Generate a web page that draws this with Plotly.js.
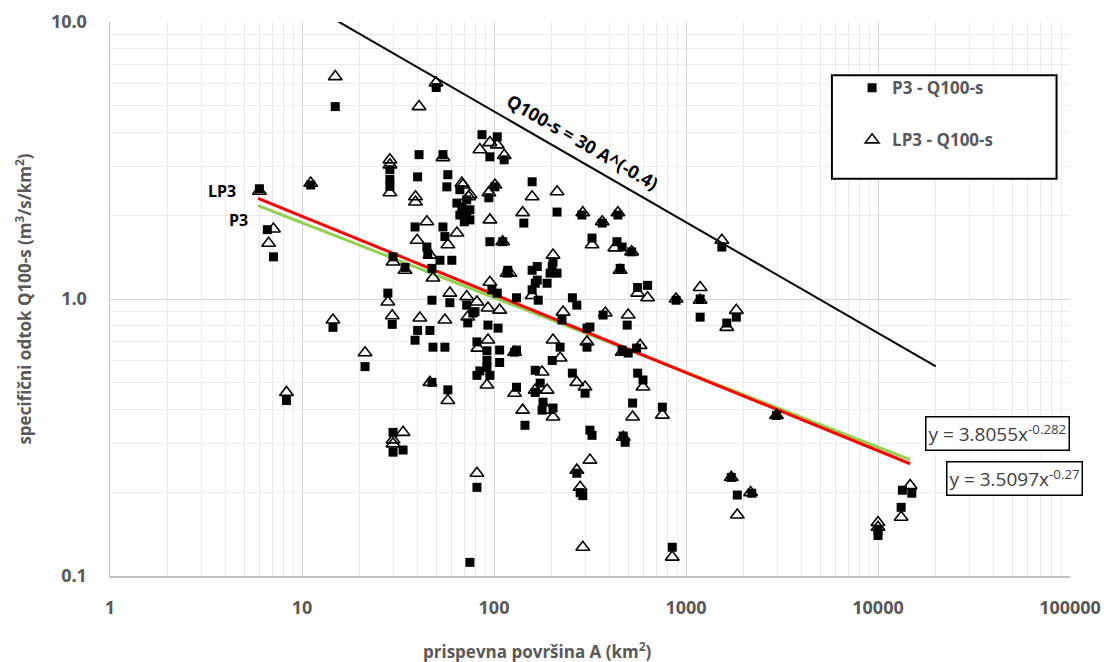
<!DOCTYPE html>
<html>
<head>
<meta charset="utf-8">
<script src="https://cdn.plot.ly/plotly-3.0.1.min.js"></script>
<style>html,body{margin:0;padding:0;background:#fff;}#chart{width:1104px;height:662px;}</style>
</head>
<body>
<div id="chart"></div>
<script>
// ---- P3 - Q100-s (area km2, specific discharge m3/s/km2)
const areaP3 = [6.0,6.6,7.1,8.3,11.1,14.9,14.5,21.3,28.0,28.7,28.7,28.7,29.5,29.8,29.8,29.8,33.6,34.4,40.0,40.7,38.8,44.7,40.0,46.4,38.8,48.1,55.5,47.5,57.5,47.5,45.2,47.5,50.0,54.2,57.5,56.8,54.2,55.5,52.3,60.3,58.9,66.4,64.1,68.0,72.1,72.1,74.9,66.4,70.0,74.9,72.1,77.6,73.0,81.5,74.9,81.5,86.6,104,95.2,113,101,94.0,95.2,111,97.5,104,79.6,93.0,105,91.9,107,91.9,107,91.9,84.4,95.2,81.5,118,131,131,128,131,145,158,143,213,287,158,168,168,164,158,170,201,213,189,196,203,256,226,221,201,164,174,164,180,203,178,256,298,270,270,281,290,316,305,305,316,324,366,442,437,465,521,454,370,494,465,500,553,560,597,527,482,471,324,560,631,753,848,888,1185,1185,1631,1829,1537,1720,1850,2200,2960,10000,10000,13200,13400,15000,117];
const qP3 = [2.50,1.78,1.42,0.43,2.58,4.95,0.79,0.57,1.05,2.93,2.70,2.55,0.81,1.42,0.33,0.28,0.285,1.30,2.76,3.32,1.82,1.54,0.77,0.77,0.71,0.67,0.67,0.50,0.47,0.99,1.46,1.29,5.80,3.32,2.81,2.54,1.82,1.68,1.38,1.38,0.97,2.48,2.22,2.15,2.28,2.05,2.10,2.01,1.90,1.93,0.95,0.89,0.82,0.70,0.112,0.209,3.92,3.85,3.26,3.18,2.54,2.32,1.61,1.61,1.08,1.05,0.90,0.805,0.785,0.65,0.654,0.60,0.59,0.567,0.55,0.53,0.53,1.27,1.01,0.654,0.643,0.48,0.35,2.65,1.88,2.06,2.01,1.27,1.31,1.17,1.14,1.08,0.99,1.31,1.24,1.14,1.24,1.36,1.01,0.84,0.67,0.60,0.553,0.497,0.46,0.424,0.404,0.397,0.54,0.457,0.95,0.235,0.20,0.195,0.336,0.785,0.67,0.792,1.66,1.88,2.01,1.61,1.54,1.48,1.29,0.875,0.805,0.654,0.638,0.665,0.54,0.51,0.421,0.304,0.32,0.322,1.10,1.12,0.407,0.127,0.99,1.00,0.86,0.819,0.86,1.54,0.227,0.196,0.199,0.38,0.146,0.14,0.177,0.204,0.199,1.24];

// ---- LP3 - Q100-s
const areaLP3 = [6.0,6.7,7.1,8.3,11.1,14.9,14.5,21.3,28.0,28.7,28.7,28.7,29.5,29.8,29.8,29.8,33.6,34.4,40.7,39.0,39.0,39.8,44.7,41.1,55.5,46.4,57.5,46.4,48.1,49.9,54.2,68.8,68.0,73.8,64.1,57.5,58.9,72.1,81.5,73.0,82.5,81.5,84.4,95.2,104,113,101,94.0,95.2,111,95.2,93.0,107,93.0,91.9,121,128,128,141,141,158,158,213,203,229,203,221,178,164,189,203,189,270,298,270,281,290,316,305,290,366,442,324,426,521,454,560,631,380,500,465,577,597,527,753,471,888,848,1185,1185,1829,1631,1537,1720,1850,2170,2960,10000,10000,13200,14700,117,75.0];
const qLP3 = [2.45,1.59,1.79,0.46,2.62,6.35,0.84,0.64,0.975,3.18,3.05,2.42,0.87,1.36,0.31,0.30,0.33,1.27,4.95,2.34,2.24,1.63,1.90,0.854,0.84,0.50,0.43,1.44,1.19,6.03,3.24,2.58,2.62,2.34,1.73,1.57,1.05,1.02,0.975,0.861,0.665,0.235,3.46,3.67,3.60,3.30,2.58,2.42,1.93,1.61,1.15,0.928,0.912,0.711,0.489,1.24,0.643,0.457,0.397,2.05,2.34,1.03,2.44,1.44,0.897,0.711,0.612,0.545,0.469,0.469,0.375,0.397,0.50,0.481,0.241,0.209,0.127,0.262,0.70,2.05,1.90,2.05,1.57,1.53,1.48,1.27,1.05,1.01,0.89,0.875,0.643,0.68,0.481,0.375,0.381,0.317,1.00,0.117,1.10,0.99,0.91,0.79,1.63,0.227,0.166,0.20,0.38,0.156,0.15,0.163,0.212,1.24,2.38];

// ---- Trend / envelope lines (from the equations printed on the chart)
const envelope = {coef: 30, exp: -0.4, from: 1, to: 20000};
const fitLP3 = {coef: 3.8055, exp: -0.282, from: 5.9, to: 14700};
const fitP3  = {coef: 3.5097, exp: -0.27,  from: 5.9, to: 14700};

const xTickVals = [1, 10, 100, 1000, 10000, 100000];
const xTickText = ['1', '10', '100', '1000', '10000', '100000'];
const yTickVals = [0.1, 1, 10];
const yTickText = ['0.1', '1.0', '10.0'];

function lineXY(f) {
  const xs = [f.from, f.to];
  return {x: xs, y: xs.map(v => f.coef * Math.pow(v, f.exp))};
}
function minorVals(lo, hi) {
  const out = [];
  for (let d = lo; d < hi; d++) for (let k = 2; k <= 9; k++) out.push(k * Math.pow(10, d));
  return out;
}

const env = lineXY(envelope), lp = lineXY(fitLP3), p = lineXY(fitP3);
const gray = '#595959';
const FONT = 'Open Sans, Noto Sans, sans-serif';

const traces = [
  {x: env.x, y: env.y, mode: 'lines', line: {color: '#000', width: 2}, showlegend: false, hoverinfo: 'skip'},
  {x: p.x, y: p.y, mode: 'lines', line: {color: '#92d050', width: 3}, showlegend: false, hoverinfo: 'skip'},
  {x: lp.x, y: lp.y, mode: 'lines', line: {color: '#ff0000', width: 3}, showlegend: false, hoverinfo: 'skip'},
  {x: areaP3, y: qP3, mode: 'markers', name: 'P3 - Q100-s', legendgroup: 'a',
   marker: {symbol: 'square', size: 9, color: '#000'}},
  {x: areaLP3, y: qLP3, mode: 'markers', name: 'LP3 - Q100-s', legendgroup: 'b',
   marker: {symbol: 'triangle-up-open', size: 12, color: '#000', line: {width: 1.6, color: '#000'}}}
];

const layout = {
  width: 1104, height: 662,
  margin: {l: 110, r: 34, t: 22, b: 86},
  paper_bgcolor: '#fff', plot_bgcolor: '#fff',
  font: {family: FONT, color: gray},
  showlegend: true,
  legend: {x: 0.773, y: 0.913, xanchor: 'left', yanchor: 'top', bgcolor: 'rgba(0,0,0,0)',
           borderwidth: 0, tracegroupgap: 27, traceorder: 'grouped',
           font: {family: FONT, size: 17, color: gray, weight: 'bold'}},
  xaxis: {type: 'log', range: [0, 5], tickvals: xTickVals, ticktext: xTickText,
          tickfont: {family: FONT, size: 18, color: gray, weight: 'bold'},
          ticks: '', ticklabelstandoff: 15,
          showgrid: true, gridcolor: '#d4d4d4', gridwidth: 1,
          minor: {tickvals: minorVals(0, 5), showgrid: true, gridcolor: '#ececec', gridwidth: 1, ticks: ''},
          showline: true, linecolor: '#c4c4c4', linewidth: 1.5, mirror: false, zeroline: false},
  yaxis: {type: 'log', range: [-1, 1], tickvals: yTickVals, ticktext: yTickText,
          tickfont: {family: FONT, size: 18, color: gray, weight: 'bold'},
          ticks: '', ticklabelstandoff: 18,
          showgrid: true, gridcolor: '#d4d4d4', gridwidth: 1,
          minor: {tickvals: minorVals(-1, 1), showgrid: true, gridcolor: '#ececec', gridwidth: 1, ticks: ''},
          showline: true, linecolor: '#c4c4c4', linewidth: 1.5, zeroline: false,
          title: {text: 'specifični odtok Q100-s (m<sup>3</sup>/s/km<sup>2</sup>)', standoff: 15,
                  font: {family: FONT, size: 17, color: gray, weight: 'bold'}}},
  shapes: [
    {type: 'rect', xref: 'paper', yref: 'paper', x0: 0.752, x1: 0.986, y0: 0.717, y1: 0.904,
     line: {color: '#000', width: 2}, fillcolor: '#fff', layer: 'above'}
  ],
  annotations: [
    {xref: 'paper', yref: 'paper', x: 0.445, y: -0.135, xanchor: 'center', yanchor: 'middle', showarrow: false,
     text: 'prispevna površina A (km<sup>2</sup>)', font: {family: FONT, size: 17, color: gray, weight: 'bold'}},
    {xref: 'paper', yref: 'paper', x: 0.1333, y: 0.695, xanchor: 'right', yanchor: 'middle', showarrow: false,
     text: 'LP3', font: {family: FONT, size: 16, color: '#000', weight: 'bold'}},
    {xref: 'paper', yref: 'paper', x: 0.1458, y: 0.6426, xanchor: 'right', yanchor: 'middle', showarrow: false,
     text: 'P3', font: {family: FONT, size: 16, color: '#000', weight: 'bold'}},
    {xref: 'paper', yref: 'paper', x: 0.4927, y: 0.7834, xanchor: 'center', yanchor: 'middle', showarrow: false,
     textangle: 30, text: 'Q100-s = 30 A^(-0.4)', font: {family: FONT, size: 18, color: '#000', weight: 'bold'}},
    {xref: 'paper', yref: 'paper', x: 0.9245, y: 0.2572, xanchor: 'center', yanchor: 'middle', showarrow: false,
     text: 'y = 3.8055x<sup>-0.282</sup>', font: {family: FONT, size: 19, color: '#404040'},
     bordercolor: '#000', borderwidth: 1.5, borderpad: 2, bgcolor: '#fff'},
    {xref: 'paper', yref: 'paper', x: 0.9422, y: 0.176, xanchor: 'center', yanchor: 'middle', showarrow: false,
     text: 'y = 3.5097x<sup>-0.27</sup>', font: {family: FONT, size: 19, color: '#404040'},
     bordercolor: '#000', borderwidth: 1.5, borderpad: 2, bgcolor: '#fff'}
  ]
};

Plotly.newPlot('chart', traces, layout, {displayModeBar: false, staticPlot: true});
</script>
</body>
</html>
